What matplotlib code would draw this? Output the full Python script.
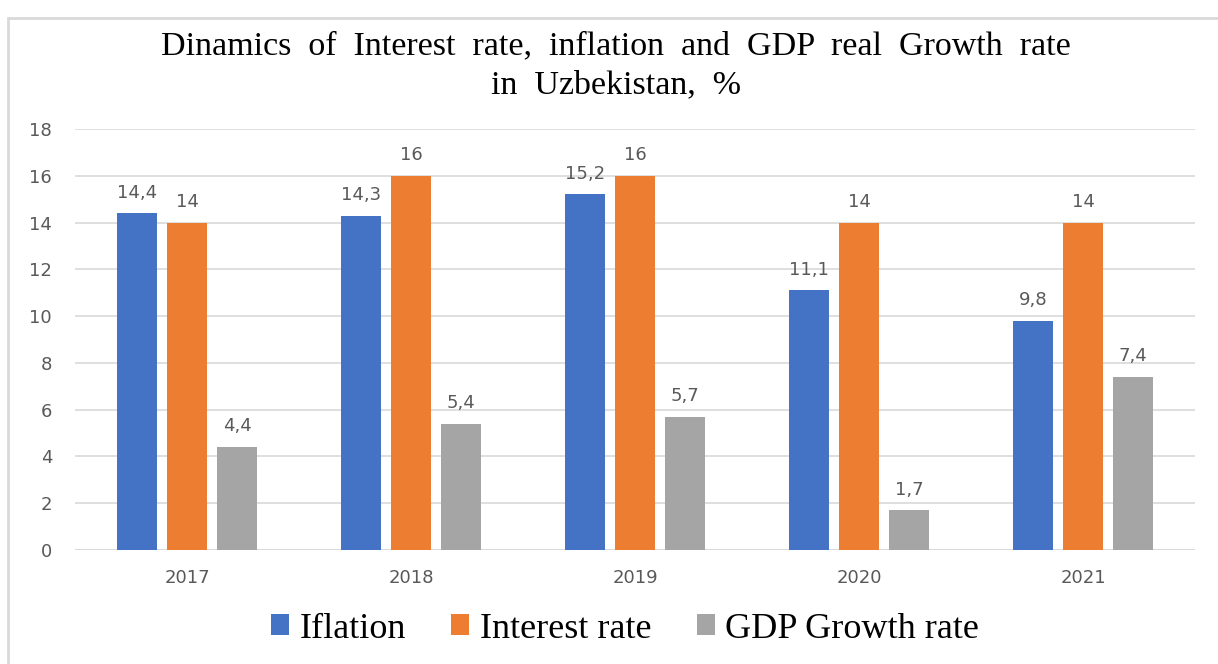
import matplotlib
matplotlib.use("Agg")
import matplotlib.pyplot as plt
import numpy as np
from matplotlib.patches import Rectangle, Patch

years = ["2017", "2018", "2019", "2020", "2021"]
inflation = [14.4, 14.3, 15.2, 11.1, 9.8]
interest = [14, 16, 16, 14, 14]
gdp = [4.4, 5.4, 5.7, 1.7, 7.4]
series_names = ["Iflation", "Interest rate", "GDP Growth rate"]
colors = ["#4472C4", "#ED7D31", "#A5A5A5"]
yticks = [0, 2, 4, 6, 8, 10, 12, 14, 16, 18]

W, H = 1218, 664
fig = plt.figure(figsize=(W / 100, H / 100), dpi=100)
fig.patch.set_facecolor("white")

# chart frame
fig.patches.append(Rectangle((8 / W, -0.1), 1.2, 1.1 - 18 / H, transform=fig.transFigure,
                             fill=False, edgecolor="#D9D9D9", linewidth=2))

ax = fig.add_axes([75 / W, 1 - 550 / H, (1195 - 75) / W, (550 - 129) / H])
x = np.arange(len(years))
bw = 0.175
pitch = 0.223
label_font = dict(family="DejaVu Sans", size=13, color="#595959")
for i, (vals, c, name) in enumerate(zip([inflation, interest, gdp], colors, series_names)):
    pos = x + (i - 1) * pitch
    ax.bar(pos, vals, width=bw, color=c, label=name, zorder=3)
    for p, v in zip(pos, vals):
        s = ("%g" % v).replace(".", ",")
        ax.text(p, v + 0.5, s, ha="center", va="bottom", **label_font)

ax.set_ylim(0, 18)
ax.set_xlim(-0.5, len(years) - 0.5)
ax.set_yticks(yticks)
ax.set_yticklabels([str(t) for t in yticks], fontfamily="DejaVu Sans", fontsize=13, color="#595959")
ax.set_xticks(x)
ax.set_xticklabels(years, fontfamily="DejaVu Sans", fontsize=13, color="#595959")
ax.tick_params(axis="both", length=0)
ax.tick_params(axis="y", pad=16.5)
ax.tick_params(axis="x", pad=14)
ax.yaxis.grid(True, color="#D9D9D9", linewidth=1.2, zorder=0)
ax.set_axisbelow(True)
for s in ax.spines.values():
    s.set_visible(False)
ax.axhline(0, color="#D9D9D9", linewidth=1.2, zorder=1)

title = "Dinamics  of  Interest  rate,  inflation  and  GDP  real  Growth  rate\nin  Uzbekistan,  %"
fig.text(616 / W, 1 - 65.5 / H, title,
         ha="center", va="center", fontfamily="Liberation Serif", fontsize=24.5, linespacing=1.36, color="#000000")

handles = [Patch(facecolor=c) for c in colors]
fig.legend(handles, series_names, loc="center", bbox_to_anchor=(625 / W, 1 - 629 / H), ncol=3, frameon=False,
           prop=dict(family="Liberation Serif", size=26), handlelength=0.5, handleheight=0.5,
           handletextpad=0.3, columnspacing=1.25)

fig.savefig("out.png", dpi=100)
